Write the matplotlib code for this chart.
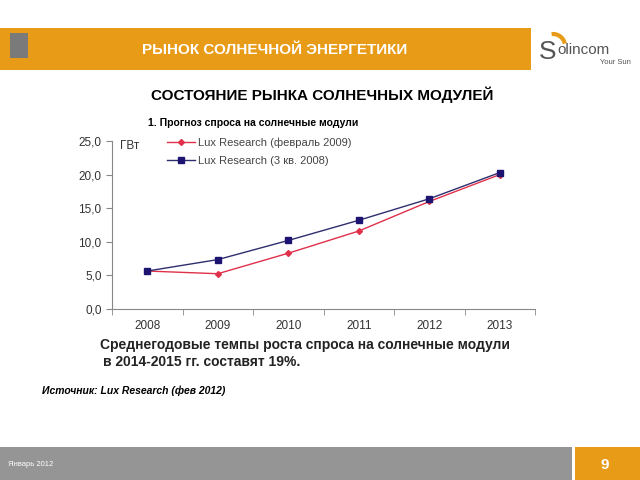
import numpy as np
import matplotlib.pyplot as plt
from matplotlib.patches import Rectangle, Arc

plt.rcParams['font.family'] = ['Liberation Sans', 'DejaVu Sans']

years = ['2008', '2009', '2010', '2011', '2012', '2013']
feb_2009 = [5.65, 5.25, 8.3, 11.6, 16.0, 20.0]
q3_2008 = [5.65, 7.35, 10.2, 13.2, 16.4, 20.3]
y_ticks = [0, 5, 10, 15, 20, 25]
y_labels = ['0,0', '5,0', '10,0', '15,0', '20,0', '25,0']

orange = '#E89B17'
grey_bar = '#959595'

fig = plt.figure(figsize=(6.4, 4.8), dpi=100)
W, H = 640, 480

def fx(px):
    return px / W

def fy(py):
    return 1 - py / H

# header bar
fig.patches.append(Rectangle((fx(0), fy(70)), fx(531), 42 / H, transform=fig.transFigure,
                             facecolor=orange, edgecolor='none'))
fig.patches.append(Rectangle((fx(10), fy(58)), fx(18), 25 / H, transform=fig.transFigure,
                             facecolor='#7a7a7a', edgecolor='none'))
fig.text(fx(275), fy(50), 'РЫНОК СОЛНЕЧНОЙ ЭНЕРГЕТИКИ', color='white', fontsize=11,
         fontweight='bold', ha='center', va='center')

# logo
fig.text(fx(539), fy(52), 'S', color='#555555', fontsize=19, ha='left', va='center')
fig.text(fx(557), fy(50), 'olincom', color='#555555', fontsize=11, ha='left', va='center')
fig.text(fx(615), fy(62), 'Your Sun', color='#555555', fontsize=5.5, ha='center', va='center')
fig.patches.append(Arc((fx(553), fy(46)), 24 / W, 24 / H, theta1=15, theta2=95,
                       transform=fig.transFigure, color=orange, lw=3))

# titles
fig.text(fx(322), fy(95), 'СОСТОЯНИЕ РЫНКА СОЛНЕЧНЫХ МОДУЛЕЙ', fontsize=11,
         fontweight='bold', ha='center', va='center')
fig.text(fx(148), fy(123), '1. Прогноз спроса на солнечные модули', fontsize=7.5,
         fontweight='bold', ha='left', va='center')

# chart
ax = fig.add_axes([fx(112), fy(309), fx(535 - 112), (309 - 141) / H])
x = np.arange(len(years))
ax.plot(x, feb_2009, color='#E0304A', lw=1, marker='D', markersize=3,
        label='Lux Research (февраль 2009)')
ax.plot(x, q3_2008, color='#2E2E6E', lw=1, marker='s', markersize=5,
        markerfacecolor='#1C1470', markeredgecolor='#1C1470',
        label='Lux Research (3 кв. 2008)')
ax.set_xlim(-0.5, 5.5)
ax.set_ylim(0, 25)
ax.set_yticks(y_ticks)
ax.set_yticklabels(y_labels)
ax.set_xticks(x)
ax.set_xticklabels(years)
ax.set_xticks(np.arange(-0.5, 6, 1), minor=True)
ax.tick_params(axis='x', which='major', length=0, pad=8)
ax.tick_params(axis='x', which='minor', length=4, color='#888888')
ax.tick_params(axis='y', length=4, color='#888888')
ax.tick_params(labelsize=8.5, labelcolor='#333333')
for s in ['top', 'right']:
    ax.spines[s].set_visible(False)
for s in ['left', 'bottom']:
    ax.spines[s].set_color('#888888')
ax.text(0.02, 0.97, 'ГВт', transform=ax.transAxes, fontsize=8.5, color='#333333',
        ha='left', va='center')
ax.legend(loc='upper left', bbox_to_anchor=(0.12, 1.05), frameon=False, fontsize=8,
          handlelength=2.5, labelcolor='#444444', borderaxespad=0, labelspacing=0.75,
          handletextpad=0.3)

# notes
fig.text(fx(100), fy(345), 'Среднегодовые темпы роста спроса на солнечные модули',
         fontsize=10, fontweight='bold', color='#222222', ha='left', va='center')
fig.text(fx(103), fy(362), 'в 2014-2015 гг. составят 19%.', fontsize=10,
         fontweight='bold', color='#222222', ha='left', va='center')
fig.text(fx(42), fy(391), 'Источник: Lux Research (фев 2012)', fontsize=7.5,
         fontweight='bold', fontstyle='italic', ha='left', va='center')

# footer
fig.patches.append(Rectangle((fx(0), 0), fx(572), 33 / H, transform=fig.transFigure,
                             facecolor=grey_bar, edgecolor='none'))
fig.patches.append(Rectangle((fx(575), 0), fx(65), 33 / H, transform=fig.transFigure,
                             facecolor=orange, edgecolor='none'))
fig.text(fx(8), fy(465), 'Январь 2012', color='white', fontsize=5.5, ha='left', va='center')
fig.text(fx(605), fy(465), '9', color='white', fontsize=11, fontweight='bold',
         ha='center', va='center')

fig.savefig('out.png', dpi=100)
